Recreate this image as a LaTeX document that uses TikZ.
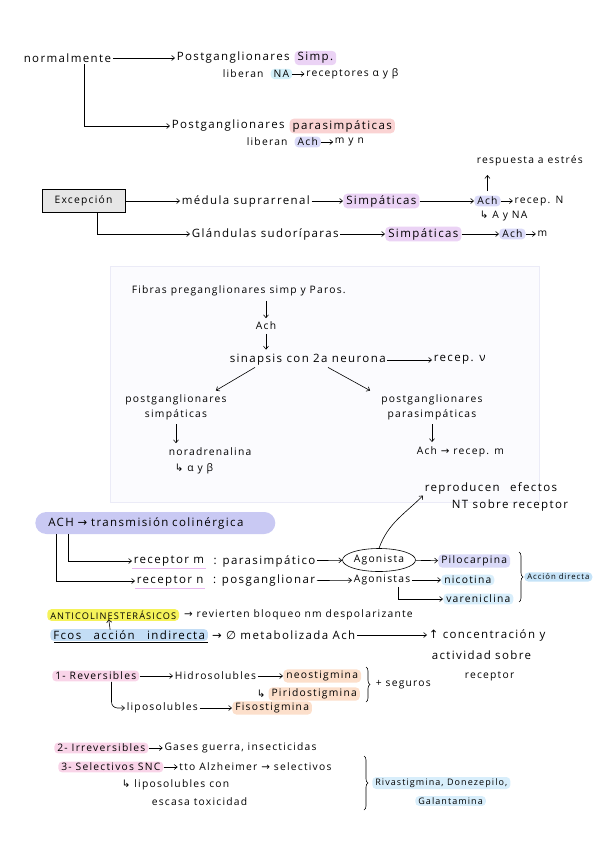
\documentclass[tikz,border=0pt]{standalone}
\usepackage{fontspec}
\setmainfont{Open Sans}[LetterSpace=12]
\newfontfamily\arrowfont{DejaVu Sans}
\newcommand\ra{{\arrowfont →}}
\newcommand\hk{{\arrowfont ↳}}
\newcommand\upa{{\arrowfont ↑}}
\newcommand\vacio{{\arrowfont ∅}}
\usetikzlibrary{arrows.meta,shapes.geometric,decorations.pathreplacing}
\definecolor{lila}{HTML}{EBD3F5}
\definecolor{cian}{HTML}{D3F0FA}
\definecolor{salmon}{HTML}{FAD3D3}
\definecolor{lavanda}{HTML}{DADAF8}
\definecolor{lavpill}{HTML}{C9C9F3}
\definecolor{celeste}{HTML}{D8EEFB}
\definecolor{celesteB}{HTML}{C5E3F8}
\definecolor{amarillo}{HTML}{F5F25A}
\definecolor{azulF}{HTML}{C3DDF5}
\definecolor{rosa}{HTML}{F9D4E8}
\definecolor{melocoton}{HTML}{FCDFCB}
\definecolor{gris}{HTML}{E6E6E6}
\definecolor{panelfill}{HTML}{FBFBFE}
\definecolor{panelline}{HTML}{EBEBF7}
\definecolor{subrayado}{HTML}{E8B8F0}

\begin{document}
\begin{tikzpicture}[x=1pt,y=-1pt,line width=0.6pt,>={Straight Barb[length=3pt,width=5pt]},
  txt/.style={anchor=west,inner sep=1.5pt,font=\fontsize{11.5}{17}\selectfont},
  sml/.style={font=\fontsize{10.3}{15}\selectfont},
  tiny/.style={font=\fontsize{9}{13}\selectfont},
  hl/.style={txt,rounded corners=4pt,inner xsep=3pt},
  brc/.style={decorate,decoration={brace,amplitude=4pt}}]
\useasboundingbox (0,0) rectangle (599,848);
% ---------- normalmente ----------
\node[txt] (norm) at (22,58) {normalmente};
\node[txt] (psimp) at (175,58) {Postganglionares};
\node[hl,fill=lila] (simp) at ([xshift=3pt]psimp.east) {Simp.};
\node[txt,sml] (lib1) at (221,74) {liberan};
\node[hl,fill=cian,sml] (na) at ([xshift=5pt]lib1.east) {NA};
\node[txt,sml] (recab) at ([xshift=12pt]na.east) {receptores α y β};
\node[txt] (ppar) at (170,126) {Postganglionares};
\node[hl,fill=salmon] (par) at ([xshift=3pt]ppar.east) {parasimpáticas};
\node[txt,sml] (lib2) at (245,142) {liberan};
\node[hl,fill=lavanda,sml] (ach1) at ([xshift=5pt]lib2.east) {Ach};
\node[txt,sml] (myn) at ([xshift=12pt]ach1.east) {m y n};
\draw[->] (norm) -- (psimp);
\draw[->] (na) -- (recab);
\draw[->] (ach1) -- (myn);
\draw[->] ([xshift=62pt]norm.south west) |- (ppar);
% ---------- excepcion ----------
\node[txt,sml] (estres) at (475,161) {respuesta a estrés};
\node[draw,fill=gris,line width=0.9pt,minimum width=83pt,minimum height=23pt,
  sml] (exc) at (83.5,201) {Excepción};
\node[txt] (medula) at (180,201) {médula suprarrenal};
\node[hl,fill=lila] (simp2) at (343,201) {Simpáticas};
\node[hl,fill=lavanda,sml] (ach2) at (474,201) {Ach};
\node[txt,sml] (recN) at ([xshift=12pt]ach2.east) {recep. N};
\node[txt,sml] (ayna) at (478,216) {\hk{} A y NA};
\node[txt] (gland) at (190,234) {Glándulas sudoríparas};
\node[hl,fill=lila] (simp3) at (385,234) {Simpáticas};
\node[hl,fill=lavanda,sml] (ach3) at (499,234) {Ach};
\node[txt,sml] (m3) at ([xshift=10pt]ach3.east) {m};
\draw[->] (exc) -- (medula);
\draw[->] (medula) -- (simp2);
\draw[->] (simp2) -- (ach2);
\draw[->] (ach2) -- (recN);
\draw[->,shorten <=4pt,shorten >=7pt] (ach2.north) -- (ach2.north |- estres.south);
\draw[->] ([xshift=14pt]exc.south) |- (gland);
\draw[->] (gland) -- (simp3);
\draw[->] (simp3) -- (ach3);
\draw[->] (ach3) -- (m3);
% ---------- fibras (panel) ----------
\draw[draw=panelline,fill=panelfill] (110,266) rectangle (539,502);
\node[txt,sml] (fibras) at (130,291) {Fibras preganglionares simp y Paros.};
\node[txt,sml,anchor=center] (ach4) at (266,326) {Ach};
\node[txt] (sinap) at (228,360) {sinapsis con 2a neurona};
\node[txt] (recv) at (432,360) {recep. ν};
\node[txt,sml,anchor=center,align=center] (postS) at (176,407) {postganglionares\\simpáticas};
\node[txt,sml,anchor=center,align=center] (postP) at (432,407) {postganglionares\\parasimpáticas};
\node[txt,sml] (nora) at (167,452) {noradrenalina};
\node[txt,sml] (alfa) at (173,469) {\hk{} α y β};
\node[txt,sml] (achm) at (415,452) {Ach \ra{} recep. m};
\draw[->,shorten <=3pt,shorten >=2pt] (ach4.north |- fibras.south) -- (ach4.north);
\draw[->,shorten <=2pt,shorten >=3pt] (ach4.south) -- (ach4.south |- sinap.north);
\draw[->] (sinap) -- (recv);
\draw[->,shorten >=4pt] ([xshift=27pt]sinap.south west) -- ([xshift=-16pt]postS.north east);
\draw[->,shorten >=4pt] ([xshift=100pt]sinap.south west) -- ([xshift=-6pt]postP.north west);
\draw[->,shorten <=3pt,shorten >=3pt] (postS.south) -- (postS.south |- nora.north);
\draw[->,shorten <=3pt,shorten >=3pt] (postP.south) -- (postP.south |- achm.north);
% ---------- ACH ----------
\node[txt] (repro) at (423,488) {reproducen\hspace{6pt} efectos};
\node[txt] (ntsob) at (450,506) {NT sobre receptor};
\node[txt,fill=lavpill,rounded corners=11pt,minimum height=22pt,inner xsep=13pt,
  text width=214pt] (achpill) at (35,523) {ACH \ra{} transmisión colinérgica};
\node[txt] (recm) at (132,561) {receptor m};
\node[txt] (para) at ([xshift=6pt]recm.east) {: parasimpático};
\node[draw,ellipse,minimum width=73pt,minimum height=23pt,inner sep=0pt,
  sml] (agon) at (379,560) {Agonista};
\node[hl,fill=lavanda,sml] (piloc) at (438,561) {Pilocarpina};
\node[txt] (recn) at (135,581) {receptor n};
\node[txt] (posg) at ([xshift=6pt]recn.east) {: posganglionar};
\node[txt,sml] (agons) at (352,580) {Agonistas};
\node[hl,fill=celeste,sml] (nico) at (441,580) {nicotina};
\node[hl,fill=celeste,sml] (varen) at (443,599) {vareniclina};
\node[hl,fill=celesteB,font=\fontsize{7.8}{11}\selectfont] (accion) at (524,577) {Acción directa};
\draw[->] ([xshift=33pt]achpill.south west) |- (recm);
\draw[->] ([xshift=21pt]achpill.south west) |- (recn);
\draw[subrayado] (recm.south west) -- (recm.south east);
\draw[subrayado] (recn.south west) -- (recn.south east);
\draw[->] (para) -- (agon);
\draw[->] (agon) -- (piloc);
\draw[->] (posg) -- (agons);
\draw[->] (agons) -- (nico);
\draw[->] ([xshift=-14pt]agons.south east) |- (varen);
\draw[->] (agon.north) to[out=70,in=225] (repro.south west);
\draw[brc] (519,552) -- (519,602);
% ---------- anticolinesterasicos ----------
\node[hl,fill=amarillo,font=\fontsize{9.2}{12}\selectfont] (anti) at (47,615) {ANTICOLINESTERÁSICOS};
\node[txt,sml] (revier) at ([xshift=3pt]anti.east) {\ra{} revierten bloqueo nm despolarizante};
\node[hl,fill=azulF] (fcos) at (50,635) {Fcos\hspace{8pt} acción\hspace{8pt} indirecta};
\node[txt] (metab) at ([xshift=2pt]fcos.east) {\ra{} \vacio{} metabolizada Ach};
\node[txt] (conc) at (427,635) {\upa{} concentración y};
\node[txt] (activ) at (430,655) {actividad sobre};
\node[txt,sml] (recp) at (463,676) {receptor};
\draw[->] (metab) -- (conc);
\draw[->,shorten <=-1pt,shorten >=-2pt] ([xshift=60pt]fcos.north west) -- ([xshift=62pt]anti.south west);
\draw[double,double distance=1.2pt,line width=0.5pt] ([xshift=4pt,yshift=-2pt]fcos.south west) -- ([yshift=-2pt]fcos.south east);
% ---------- reversibles ----------
\node[hl,fill=rosa,sml] (rev) at (52,676) {1- Reversibles};
\node[txt,sml] (hidro) at (173,676) {Hidrosolubles};
\node[hl,fill=melocoton,sml] (neo) at (283,676) {neostigmina};
\node[txt,sml] (hk1) at (255,694) {\hk};
\node[hl,fill=melocoton,sml] (piri) at ([xshift=1pt]hk1.east) {Piridostigmina};
\node[txt,sml] (seg) at (374,685) {+ seguros};
\node[txt,sml] (lipo) at (125,708) {liposolubles};
\node[hl,fill=melocoton,sml] (fiso) at (232,708) {Fisostigmina};
\draw[->] (rev) -- (hidro);
\draw[->] (hidro) -- (neo);
\draw[->] (lipo) -- (fiso);
\draw[->,rounded corners=6pt] ([xshift=-28pt]rev.south east) |- (lipo);
\draw[brc] (366,667) -- (366,702);
% ---------- irreversibles / selectivos ----------
\node[hl,fill=rosa,sml] (irrev) at (54,748) {2- Irreversibles};
\node[txt,sml] (gases) at ([xshift=14pt]irrev.east) {Gases guerra, insecticidas};
\node[hl,fill=rosa,sml] (selec) at (58,767) {3- Selectivos SNC};
\node[txt,sml] (alz) at ([xshift=14pt]selec.east) {tto Alzheimer \ra{} selectivos};
\node[txt,sml] (liposc) at (120,785) {\hk{} liposolubles con};
\node[txt,sml] (escasa) at (150,802) {escasa toxicidad};
\node[hl,fill=celeste,tiny] (riva) at (372,783) {Rivastigmina, Donezepilo,};
\node[hl,fill=celeste,tiny] (galan) at (415,801) {Galantamina};
\draw[->] (irrev) -- (gases);
\draw[->] (selec) -- (alz);
\draw[brc] (364,756) -- (364,810);
\end{tikzpicture}
\end{document}
